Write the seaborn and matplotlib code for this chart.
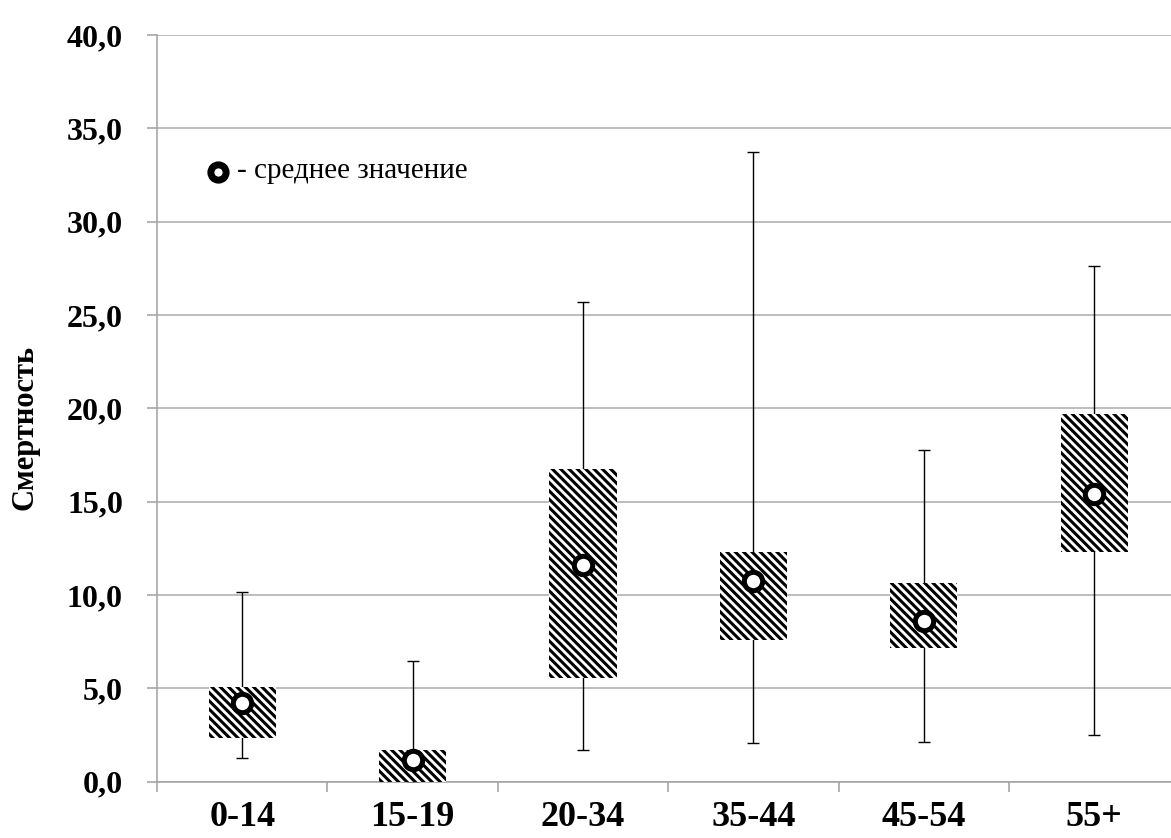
import matplotlib
matplotlib.use("Agg")
import matplotlib.pyplot as plt
import seaborn as sns
import numpy as np
import pandas as pd

# ---- data ----
categories = ['0-14', '15-19', '20-34', '35-44', '45-54', '55+']
box_low = [2.36, 0.0, 5.57, 7.59, 7.18, 12.29]     # lower edge of box
box_high = [5.06, 1.70, 16.73, 12.32, 10.63, 19.70]  # upper edge of box
whisk_min = [1.29, 0.0, 1.70, 2.05, 2.11, 2.52]
whisk_max = [10.14, 6.48, 25.70, 33.72, 17.75, 27.64]
means = [4.23, 1.16, 11.61, 10.77, 8.63, 15.41]
ytick_values = [0, 5, 10, 15, 20, 25, 30, 35, 40]
ytick_labels = ['0,0', '5,0', '10,0', '15,0', '20,0', '25,0', '30,0', '35,0', '40,0']
y_label = 'Смертность'
legend_text = '- среднее значение'

HATCH = chr(92) * 4   # backslashes -> dense diagonal stripes

sns.set_theme(style='white')
plt.rcParams['font.family'] = ['Liberation Serif', 'DejaVu Serif']
plt.rcParams['hatch.linewidth'] = 2.2

W, H = 1171, 838
fig = plt.figure(figsize=(W / 100, H / 100), dpi=100)
fig.patch.set_facecolor('white')
ax = fig.add_axes([157 / W, 1 - 781.7 / H, 1022.4 / W, (781.7 - 35.0) / H])
ax.set_facecolor('white')

df = pd.DataFrame({
    'cat': categories,
    'height': np.array(box_high) - np.array(box_low),
    'low': box_low,
})

# whiskers (drawn under the boxes)
x_pos = np.arange(len(categories))
wmin = np.array(whisk_min)
wmax = np.array(whisk_max)
ax.errorbar(x_pos, wmin, yerr=[np.zeros_like(wmin), wmax - wmin], fmt='none',
            ecolor='black', elinewidth=1.0, capsize=4, capthick=1.0, zorder=2)

# hatched boxes
sns.barplot(data=df, x='cat', y='height', bottom=df['low'].values, ax=ax,
            color='white', width=0.395, zorder=3)
for p in ax.patches:
    p.set_facecolor('white')
    p.set_edgecolor('black')
    p.set_linewidth(0)
    p.set_hatch(HATCH)
    p.set_zorder(3)

# mean markers
sns.scatterplot(x=categories, y=means, ax=ax, marker='o', s=175,
                facecolor='white', edgecolor='black', linewidth=3.6, zorder=5,
                legend=False)

# axes styling
ax.set_xlim(-0.5, len(categories) - 0.5)
ax.set_ylim(0, 40)
ax.set_yticks(ytick_values)
ax.set_yticklabels(ytick_labels)
ax.yaxis.grid(True, color='#ababab', linewidth=1.1)
ax.xaxis.grid(False)
ax.set_axisbelow(True)
for s in ['top', 'right']:
    ax.spines[s].set_visible(False)
for s in ['left', 'bottom']:
    ax.spines[s].set_color('#a0a0a0')
    ax.spines[s].set_linewidth(1.1)

ax.set_xticks(x_pos)
ax.set_xticklabels(categories)
ax.set_xticks(np.arange(-0.5, len(categories), 1.0), minor=True)
ax.tick_params(axis='x', which='major', length=0, pad=14, labelsize=26)
ax.tick_params(axis='x', which='minor', length=7.5, width=1.1, color='#a0a0a0',
               direction='out', bottom=True)
ax.tick_params(axis='y', which='major', length=7.5, width=1.1, color='#a0a0a0',
               direction='out', left=True, pad=17, labelsize=23)
for lab in ax.get_xticklabels() + ax.get_yticklabels():
    lab.set_fontweight('bold')
    lab.set_color('black')

ax.set_xlabel('')
ax.set_ylabel(y_label, fontsize=22, fontweight='bold', color='black')
ax.yaxis.set_label_coords(-0.115, 0.474)

# "legend": marker + text
fig.lines.append(plt.Line2D([218 / W], [1 - 172 / H], transform=fig.transFigure,
                            marker='o', markersize=11, markerfacecolor='white',
                            markeredgecolor='black', markeredgewidth=5.0,
                            linestyle='none'))
fig.text(237 / W, 1 - 171 / H, legend_text, fontsize=21, color='black',
         ha='left', va='center')

fig.savefig('out.png', dpi=100, facecolor='white')
